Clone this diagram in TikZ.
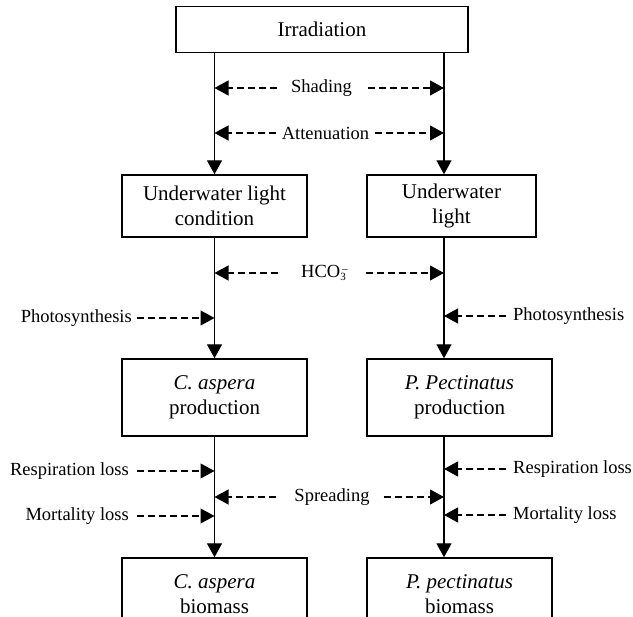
\documentclass[tikz,border=0pt]{standalone}
\usepackage{fontspec}
\setmainfont{Liberation Serif}
\usetikzlibrary{arrows.meta,calc}
\newcommand\boxfont{\fontsize{21}{24.5}\selectfont}
\newcommand\lblfont{\fontsize{18.5}{22}\selectfont}
\tikzset{
  x=1pt, y=-1pt,
  flowbox/.style={draw, line width=1.4pt, align=center, font=\boxfont, inner sep=0pt},
  lbl/.style={font=\lblfont, inner sep=0pt},
  varr/.style={line width=1.4pt, -{Triangle[length=14pt,width=15pt]}},
  darr/.style={line width=1.2pt, dash pattern=on 7pt off 4pt, -{Triangle[length=14pt,width=15pt]}},
}
\begin{document}
\begin{tikzpicture}
\useasboundingbox (0,0) rectangle (633,617);
% boxes
\node[flowbox, minimum width=292pt, minimum height=46pt] (irr) at (322,29.7) {Irradiation};
\node[flowbox, minimum width=185pt, minimum height=62pt] (ul) at (214.5,206) {Underwater light\\condition};
\node[flowbox, minimum width=169pt, minimum height=62pt] (ur) at (451.5,206) {Underwater\\light};
\node[flowbox, minimum width=185pt, minimum height=77pt] (pl) at (214.5,397.5) {\textit{C. aspera}\\production};
\node[flowbox, minimum width=185pt, minimum height=77pt] (pr) at (459.5,397.5) {\textit{P. Pectinatus}\\production};
\node[flowbox, minimum width=185pt, minimum height=72pt] (bl) at (214.5,594) {\textit{C. aspera}\\biomass};
\node[flowbox, minimum width=185pt, minimum height=72pt] (br) at (459.5,594) {\textit{P. pectinatus}\\biomass};
% vertical line positions
\coordinate (lx) at (214.5,0);
\coordinate (rx) at (444,0);
% vertical arrows
\draw[varr] (irr.south -| lx) -- (ul.north -| lx);
\draw[varr] (irr.south -| rx) -- (ur.north -| rx);
\draw[varr] (ul.south -| lx) -- (pl.north -| lx);
\draw[varr] (ur.south -| rx) -- (pr.north -| rx);
\draw[varr] (pl.south -| lx) -- (bl.north -| lx);
\draw[varr] (pr.south -| rx) -- (br.north -| rx);
% middle labels
\node[lbl] (shd) at (321.5,88) {Shading};
\node[lbl] (att) at (325.5,133) {Attenuation};
\node[lbl] (hco) at (323.5,273) {HCO\rlap{\raisebox{0.55ex}{\fontsize{11}{11}\selectfont\,–}}\raisebox{-0.45ex}{\fontsize{11}{11}\selectfont 3}};
\node[lbl] (spr) at (332,497) {Spreading};
\draw[darr] ([xshift=-14pt]shd.west) -- (shd.west -| lx);
\draw[darr] ([xshift=16pt]shd.east) -- (shd.east -| rx);
\draw[darr] ([xshift=-6pt]att.west) -- (att.west -| lx);
\draw[darr] ([xshift=6pt]att.east) -- (att.east -| rx);
\draw[darr] ([xshift=-23pt]hco.west) -- (hco.west -| lx);
\draw[darr] ([xshift=20pt]hco.east) -- (hco.east -| rx);
\draw[darr] ([xshift=-18pt]spr.west) -- (spr.west -| lx);
\draw[darr] ([xshift=14pt]spr.east) -- (spr.east -| rx);
% side labels left
\node[lbl, anchor=east] (phl) at (132,318) {Photosynthesis};
\node[lbl, anchor=east] (rsl) at (129,471) {Respiration loss};
\node[lbl, anchor=east] (mol) at (129,516) {Mortality loss};
\draw[darr] ([xshift=5pt]phl.east) -- (phl.east -| lx);
\draw[darr] ([xshift=8pt]rsl.east) -- (rsl.east -| lx);
\draw[darr] ([xshift=8pt]mol.east) -- (mol.east -| lx);
% side labels right
\node[lbl, anchor=west] (phr) at (513,316) {Photosynthesis};
\node[lbl, anchor=west] (rsr) at (513,469) {Respiration loss};
\node[lbl, anchor=west] (mor) at (513,515) {Mortality loss};
\draw[darr] ([xshift=-7pt]phr.west) -- (phr.west -| rx);
\draw[darr] ([xshift=-7pt]rsr.west) -- (rsr.west -| rx);
\draw[darr] ([xshift=-7pt]mor.west) -- (mor.west -| rx);
\end{tikzpicture}
\end{document}
